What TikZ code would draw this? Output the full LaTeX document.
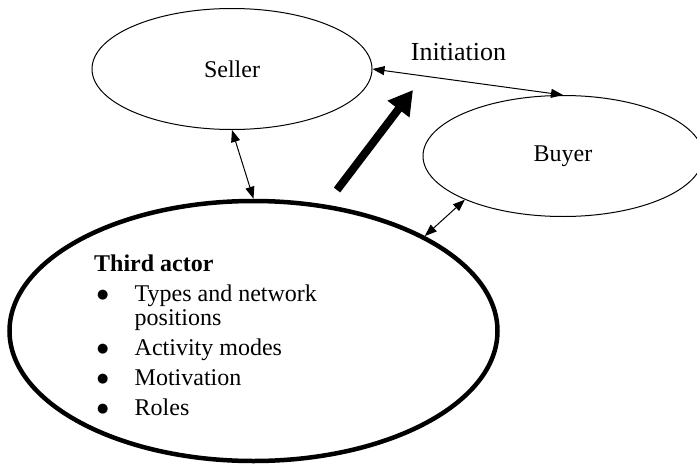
\documentclass[tikz,border=0pt]{standalone}
\usepackage{fontspec}
\setmainfont{Liberation Serif}
\newfontfamily\dotfont{DejaVu Sans}
\usetikzlibrary{shapes.geometric,arrows.meta}

% a round list bullet, set from a symbol font
\newcommand{\itemdot}{\hspace{3pt}\raisebox{3pt}{\fontsize{13}{13}\dotfont ●}}

\tikzset{
  party/.style={ellipse, draw, line width=1pt, inner sep=0pt,
    minimum width=280pt, minimum height=121pt,
    font=\fontsize{24}{24}\selectfont},
  actor/.style={ellipse, draw, line width=4.5pt, inner sep=0pt,
    minimum width=488pt, minimum height=260pt},
  link/.style={line width=1pt, {Triangle[length=12pt,width=9pt]}-{Triangle[length=12pt,width=9pt]}},
  push/.style={line width=8pt, -{Triangle[length=24pt,width=26pt]}},
  bodytext/.style={font=\fontsize{24}{24}\selectfont, inner sep=0pt}
}

\begin{document}
\begin{tikzpicture}[x=1pt, y=-1pt]
  \useasboundingbox (0,0) rectangle (697,466);

  % the three actors
  \node[party] (seller) at (232,69) {Seller};
  \node[party] (buyer) at (563,156) {Buyer};
  \node[actor] (third) at (253.5,331) {};

  % contents of the third actor
  \node[bodytext, anchor=base west] (thirdtext) at (94,271) {%
    \begin{tabular}[t]{@{}p{40.5pt}@{}l@{}}
      \multicolumn{2}{@{}l@{}}{\textbf{Third actor}}\\[6pt]
      \itemdot & Types and network\\
       & positions\\[6pt]
      \itemdot & Activity modes\\[6pt]
      \itemdot & Motivation\\[6pt]
      \itemdot & Roles
    \end{tabular}};

  % initiation between seller and buyer
  \node[font=\fontsize{26}{26}\selectfont, inner sep=0pt, anchor=base]
    (initlabel) at (458.5,60.5) {Initiation};
  \draw[link] (seller.east) -- (buyer.north);

  % relations with the third actor
  \draw[link] (seller.south) -- (third.north);
  \draw[link] (buyer.204) -- (third.29);

  % push of the third actor towards initiation
  \coordinate (pushfrom) at (337,190);
  \coordinate (pushto) at (413,90);
  \draw[push] (pushfrom) -- (pushto);
\end{tikzpicture}
\end{document}
